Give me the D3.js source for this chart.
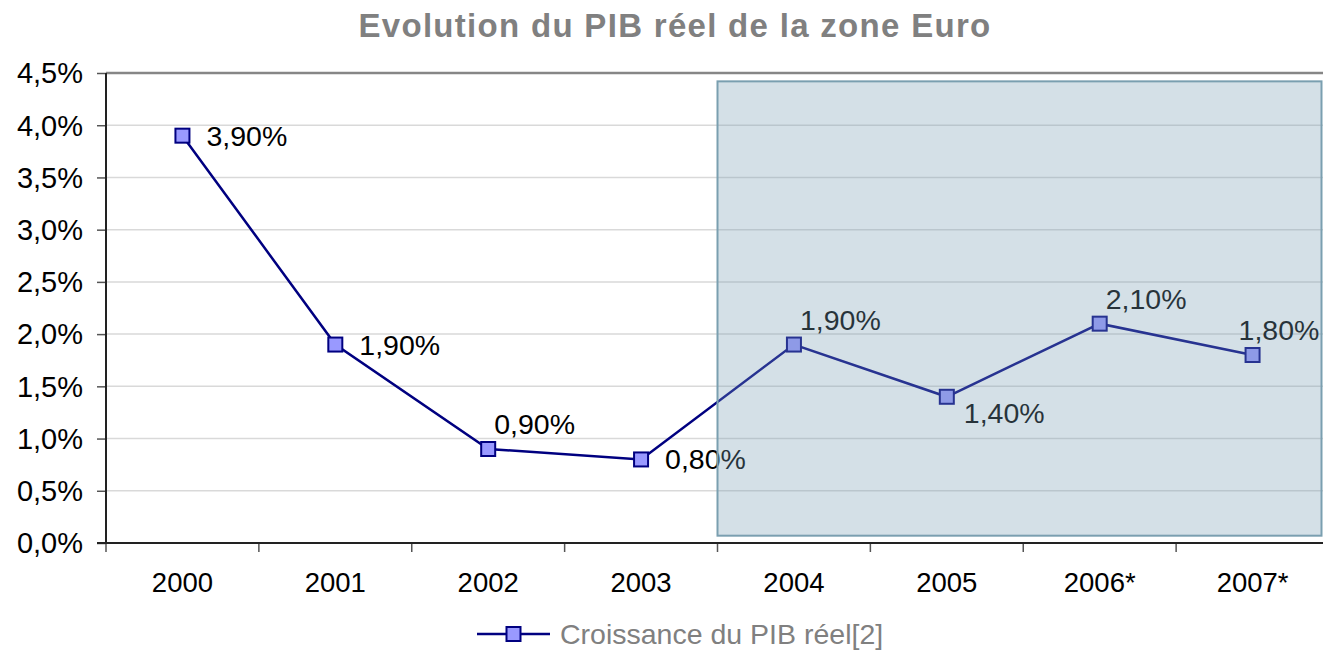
<!DOCTYPE html>
<html>
<head>
<meta charset="utf-8">
<script src="https://cdn.jsdelivr.net/npm/d3@7/dist/d3.min.js"></script>
<style>
  html, body { margin: 0; padding: 0; background: #fff; }
  svg { display: block; font-family: "Liberation Sans", Arial, sans-serif; }
</style>
</head>
<body>
<svg id="chart" width="1323" height="650"></svg>
<script>
// ---- data ----
const title = "Evolution du PIB réel de la zone Euro";
const seriesName = "Croissance du PIB réel[2]";
const categories = ["2000", "2001", "2002", "2003", "2004", "2005", "2006*", "2007*"];
const growth = [3.9, 1.9, 0.9, 0.8, 1.9, 1.4, 2.1, 1.8];
const yTicks = [0, 0.5, 1, 1.5, 2, 2.5, 3, 3.5, 4, 4.5];
const labelPlacement = ["right", "right", "above", "right", "above", "below", "above", "aboveLeft"];
const shadedFrom = "2004";
const shadedRange = [0.07, 4.42];

// ---- layout ----
const W = 1323, H = 650;
const pLeft = 106, pRight = 1329, pTop = 73, pBottom = 543;
const svg = d3.select("#chart");

const x = d3.scaleBand().domain(categories).range([pLeft, pRight]).paddingInner(0).paddingOuter(0);
const y = d3.scaleLinear().domain([0, 4.5]).range([pBottom, pTop]);
const fmtAxis = v => d3.format(".1f")(v).replace(".", ",") + "%";
const fmtLabel = v => d3.format(".2f")(v).replace(".", ",") + "%";

// title
svg.append("text")
  .attr("x", 675).attr("y", 37)
  .attr("text-anchor", "middle")
  .attr("font-size", 33).attr("font-weight", "bold")
  .attr("letter-spacing", 1.3)
  .attr("fill", "#808080")
  .text(title);

// gridlines
svg.append("g").selectAll("line")
  .data(yTicks.filter(v => v > 0 && v < 4.5))
  .join("line")
  .attr("x1", pLeft).attr("x2", W)
  .attr("y1", d => y(d)).attr("y2", d => y(d))
  .attr("stroke", "#d9d9d9").attr("stroke-width", 1.5);

// top border at max
svg.append("line")
  .attr("x1", pLeft).attr("x2", W)
  .attr("y1", y(4.5)).attr("y2", y(4.5))
  .attr("stroke", "#868686").attr("stroke-width", 2.7);

// y axis
const yAxis = d3.axisLeft(y).tickValues(yTicks).tickFormat(fmtAxis).tickSize(9).tickPadding(14);
const gy = svg.append("g").attr("transform", `translate(${pLeft},0)`).call(yAxis);
gy.select(".domain").remove();
gy.selectAll(".tick line").attr("stroke", "#555").attr("stroke-width", 1.5);
gy.selectAll(".tick text").attr("font-size", 29).attr("fill", "#000")
  .attr("font-family", "Liberation Sans, Arial, sans-serif").attr("dy", "0.34em");

// x axis labels
const xAxis = d3.axisBottom(x).tickSize(0).tickPadding(29);
const gx = svg.append("g").attr("transform", `translate(0,${pBottom})`).call(xAxis);
gx.select(".domain").remove();
gx.selectAll(".tick text").attr("font-size", 27.5).attr("fill", "#000")
  .attr("font-family", "Liberation Sans, Arial, sans-serif");

// x tick marks at band boundaries
svg.append("g").selectAll("line")
  .data(categories)
  .join("line")
  .attr("x1", d => x(d)).attr("x2", d => x(d))
  .attr("y1", pBottom).attr("y2", pBottom + 9)
  .attr("stroke", "#555").attr("stroke-width", 1.5);

// axis lines
svg.append("line").attr("x1", pLeft).attr("x2", pLeft).attr("y1", pTop).attr("y2", pBottom)
  .attr("stroke", "#222").attr("stroke-width", 2);
svg.append("line").attr("x1", pLeft - 9).attr("x2", W).attr("y1", pBottom).attr("y2", pBottom)
  .attr("stroke", "#222").attr("stroke-width", 2);

// line
const cx = d => x(d) + x.bandwidth() / 2;
const pts = categories.map((c, i) => ({ c, v: growth[i], p: labelPlacement[i] }));
svg.append("path")
  .datum(pts)
  .attr("d", d3.line().x(d => cx(d.c)).y(d => y(d.v)))
  .attr("fill", "none").attr("stroke", "#000080").attr("stroke-width", 2.5);

// markers
const ms = 14;
svg.append("g").selectAll("rect")
  .data(pts)
  .join("rect")
  .attr("x", d => cx(d.c) - ms / 2).attr("y", d => y(d.v) - ms / 2)
  .attr("width", ms).attr("height", ms)
  .attr("fill", "#9999ff").attr("stroke", "#000080").attr("stroke-width", 2);

// data labels
const off = {
  right: [24, 0], above: [6, -25], below: [17, 16], aboveLeft: [-14, -25]
};
svg.append("g").selectAll("text")
  .data(pts)
  .join("text")
  .attr("x", d => cx(d.c) + off[d.p][0])
  .attr("y", d => y(d.v) + off[d.p][1])
  .attr("dy", "0.35em")
  .attr("font-size", 28.5).attr("fill", "#000")
  .text(d => fmtLabel(d.v));

// shaded forecast area (semi-transparent overlay)
svg.append("rect")
  .attr("x", x(shadedFrom))
  .attr("y", y(shadedRange[1]))
  .attr("width", W - 1.5 - x(shadedFrom))
  .attr("height", y(shadedRange[0]) - y(shadedRange[1]))
  .attr("fill", "#7a9fb5").attr("fill-opacity", 0.32)
  .attr("stroke", "#7a9fb0").attr("stroke-width", 2);

// legend
const lg = svg.append("g").attr("transform", "translate(477,634)");
lg.append("line").attr("x1", 0).attr("x2", 73).attr("y1", 0).attr("y2", 0)
  .attr("stroke", "#000080").attr("stroke-width", 2.5);
lg.append("rect").attr("x", 36.5 - 7).attr("y", -7).attr("width", 14).attr("height", 14)
  .attr("fill", "#9999ff").attr("stroke", "#000080").attr("stroke-width", 2);
lg.append("text").attr("x", 83).attr("y", 0).attr("dy", "0.36em")
  .attr("font-size", 28.5).attr("fill", "#808080")
  .text(seriesName);
</script>
</body>
</html>
